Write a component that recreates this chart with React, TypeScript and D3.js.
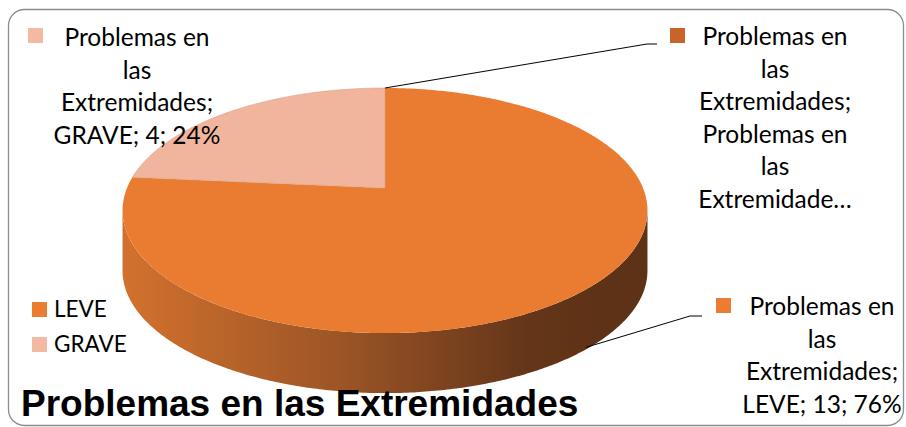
import React from "react";
import * as d3 from "d3";

const seriesName = "Problemas en las Extremidades";
const categories = ["LEVE", "GRAVE"];
const values = [13, 4];
const headerValue = [0];
const topFaceColors = ["#e97c30", "#f1b59d"];
const legendColors = ["#ea7d31", "#f4b9a3"];
const headerColor = "#c8632a";

const W = 906;
const H = 427;

export default function App() {
  const allValues = [...values, ...headerValue];
  const total = d3.sum(values);
  const arcs = d3.pie<number>().sort(null).value((d) => d)(allValues);

  // perspective ellipse projection
  const cx = 385;
  const cy = 188;
  const R = 258;
  const Ry = 118.4;
  const k = 0.184;
  const depth = 60;
  const proj = (a: number, dy = 0): [number, number] => {
    const f = 1 / (1 + k * Math.cos(a));
    return [cx + R * Math.sin(a) * f, cy - Ry * Math.cos(a) * f + dy];
  };
  const line = d3.line<[number, number]>();
  const sampleArc = (a0: number, a1: number, dy = 0): [number, number][] => {
    const n = Math.max(2, Math.ceil(Math.abs(a1 - a0) / 0.01));
    return d3.range(n + 1).map((i) => proj(a0 + ((a1 - a0) * i) / n, dy));
  };

  const aR = Math.acos(-k);
  const aL = 2 * Math.PI - aR;
  const sidePts = [...sampleArc(aR, aL, 0), ...sampleArc(aL, aR, depth)];
  const sidePath = line(sidePts) + "Z";

  const slicePaths = arcs.slice(0, values.length).map((a) => {
    const pts: [number, number][] = [[cx, cy], ...sampleArc(a.startAngle, a.endAngle)];
    return line(pts) + "Z";
  });

  const pct = (v: number) => Math.round((v / total) * 100) + "%";

  // anchors
  const leveArc = arcs[0];
  const leveMid = (leveArc.startAngle + leveArc.endAngle) / 2;
  const leveAnchor = proj(leveMid, depth - 2);
  const headerArc = arcs[2];
  const headerAnchor = proj(headerArc.startAngle % (2 * Math.PI));

  const lblFont = "Lato, 'Open Sans', sans-serif";
  const lblSize = 24.5;
  const lh = 32.5;

  const labels = [
    {
      x: 137,
      y: 46,
      sqx: 28,
      sqy: 28,
      color: legendColors[1],
      lines: ["Problemas en", "las", "Extremidades;", `${categories[1]}; ${values[1]}; ${pct(values[1])}`],
    },
    {
      x: 775,
      y: 45,
      sqx: 670,
      sqy: 28,
      color: headerColor,
      lines: ["Problemas en", "las", "Extremidades;", "Problemas en", "las", "Extremidade…"],
    },
    {
      x: 822,
      y: 315,
      sqx: 716,
      sqy: 298,
      color: legendColors[0],
      lines: ["Problemas en", "las", "Extremidades;", `${categories[0]}; ${values[0]}; ${pct(values[0])}`],
    },
  ];

  return (
    <svg width={W} height={H} style={{ position: "absolute", left: 0, top: 0, display: "block" }}>
      <defs>
        <linearGradient id="sideGrad" gradientUnits="userSpaceOnUse" x1={125} y1={0} x2={600} y2={0}>
          <stop offset="0%" stopColor="#d2712d" />
          <stop offset="45%" stopColor="#9c5526" />
          <stop offset="85%" stopColor="#643519" />
          <stop offset="100%" stopColor="#5e3216" />
        </linearGradient>
      </defs>
      <rect x={8.5} y={9.5} width={895} height={416} rx={16} fill="#fff" stroke="#8c8c8c" strokeWidth={1.3} />

      {/* side */}
      <path d={sidePath} fill="url(#sideGrad)" />
      {/* top face */}
      {slicePaths.map((p, i) => (
        <path key={i} d={p} fill={topFaceColors[i]} stroke={i === 1 ? "#d9a08a" : "none"} strokeWidth={0.6} />
      ))}

      {/* leader lines */}
      <polyline
        points={`${headerAnchor[0]},${headerAnchor[1]} 647,44 657,44`}
        fill="none"
        stroke="#000"
        strokeWidth={1}
      />
      <polyline
        points={`${leveAnchor[0]},${leveAnchor[1]} 690,316 702,316`}
        fill="none"
        stroke="#000"
        strokeWidth={1}
      />

      {/* data labels */}
      {labels.map((l, i) => (
        <g key={i}>
          <rect x={l.sqx} y={l.sqy} width={15} height={15} fill={l.color} />
          {l.lines.map((t, j) => (
            <text
              key={j}
              x={l.x}
              y={l.y + j * lh}
              textAnchor="middle"
              fontFamily={lblFont}
              fontSize={lblSize}
              fill="#000"
            >
              {t}
            </text>
          ))}
        </g>
      ))}

      {/* legend */}
      {categories.map((c, i) => (
        <g key={c}>
          <rect x={32} y={302 + i * 35} width={15} height={15} fill={legendColors[i]} />
          <text x={54} y={317 + i * 35} fontFamily={lblFont} fontSize={22.5} fill="#000">
            {c}
          </text>
        </g>
      ))}

      {/* title */}
      <text
        x={21}
        y={416}
        fontFamily="'Liberation Sans', Arial, sans-serif"
        fontWeight="bold"
        fontSize={37}
        fill="#000"
      >
        {seriesName}
      </text>
    </svg>
  );
}
